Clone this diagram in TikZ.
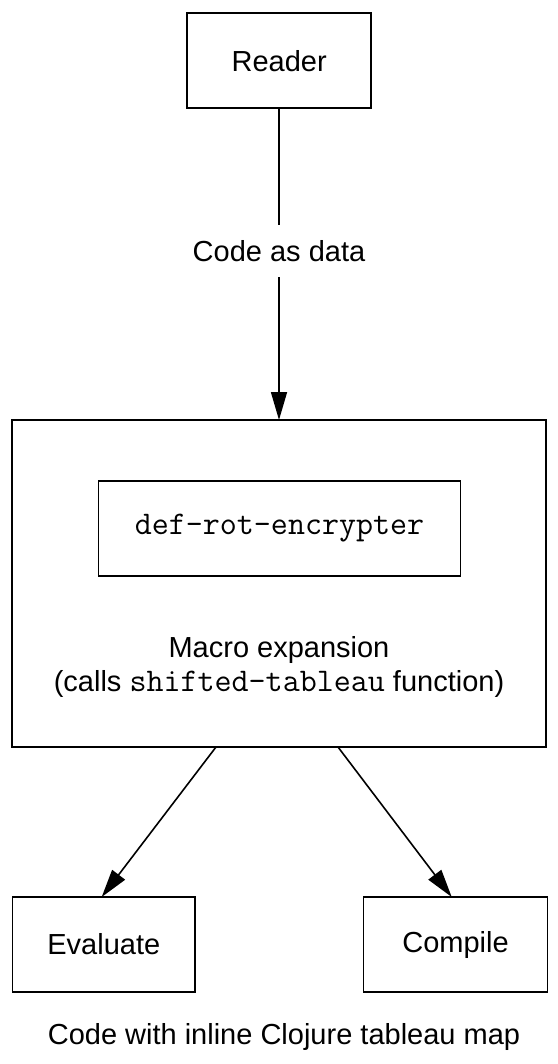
\documentclass[tikz,border=0pt]{standalone}
\usepackage{fontspec}
\setmainfont{Liberation Sans}
\setmonofont[Scale=1.14]{Latin Modern Mono}
\usetikzlibrary{arrows.meta}
\begin{document}
\begin{tikzpicture}[x=1pt,y=-1pt,
  every node/.style={font=\fontsize{29}{34.4}\selectfont},
  box/.style={draw,line width=1.8pt,inner sep=0pt,outer sep=0pt},
  txt/.style={anchor=base,inner sep=0pt},
  arr/.style={line width=1.6pt,-{Triangle[length=28pt,width=16pt]}}]
\useasboundingbox (0,0) rectangle (557,1064);
\node[box,minimum width=183.7pt,minimum height=95pt] (reader) at (279.2,60.8) {Reader};
\node[box,minimum width=534pt,minimum height=327pt] (big) at (279,583.5) {};
\node[box,minimum width=362pt,minimum height=95pt] (inner) at (279.5,528.5) {\texttt{def-rot-encrypter}};
\node[txt] (macro) at (279,657.3) {Macro expansion};
\node[txt] (calls) at (279,691.7) {(calls \texttt{shifted-tableau} function)};
\node[box,minimum width=182.5pt,minimum height=94.5pt] (eval) at (103.8,944.5) {Evaluate};
\node[box,minimum width=184pt,minimum height=94.5pt] (comp) at (455.5,944.5) {Compile};
\node[txt] (caption) at (284,1044.3) {Code with inline Clojure tableau map};
\coordinate (s1) at (216,747);
\coordinate (s2) at (338,747);
\coordinate (t1) at (101.7,897);
\coordinate (t2) at (451.7,897);
\draw[arr] (reader.south -| 279,0) -- node[pos=0.459,fill=white,inner xsep=3pt,inner ysep=0pt,minimum height=52pt] (lbl) {Code as data} (big.north -| 279,0);
\draw[arr] (s1) -- (t1);
\draw[arr] (s2) -- (t2);
\end{tikzpicture}
\end{document}
